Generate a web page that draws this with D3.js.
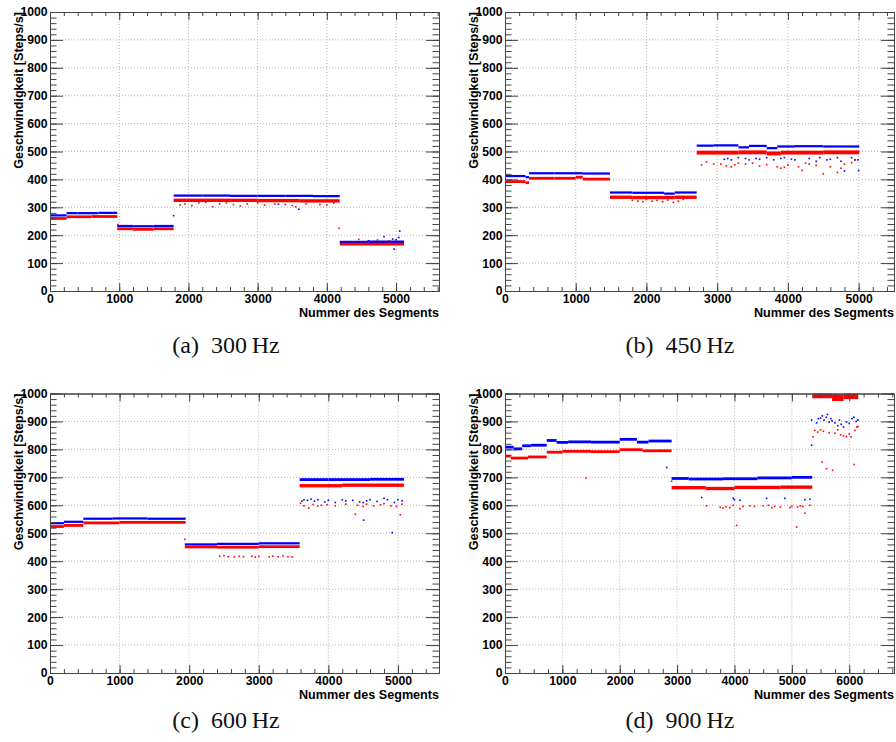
<!DOCTYPE html>
<html>
<head>
<meta charset="utf-8">
<script src="https://cdn.jsdelivr.net/npm/d3@7"></script>
<style>
  html, body { margin: 0; padding: 0; background: #fff; }
  svg { display: block; }
</style>
</head>
<body>
<svg id="chart" width="896" height="742"></svg>
<script>
// ---------------- DATA ----------------
const captions = ["(a)\u2002300\u2009Hz", "(b)\u2002450\u2009Hz", "(c)\u2002600\u2009Hz", "(d)\u2002900\u2009Hz"];
const xTitle = "Nummer des Segments";
const yTitle = "Geschwindigkeit [Steps/s]";

const xMaxValues = [5620, 5500, 5590, 6780];
const xMinorSteps = [200, 200, 200, 250];
const xTicksABC = [0, 1000, 2000, 3000, 4000, 5000];
const xTicksD = [0, 1000, 2000, 3000, 4000, 5000, 6000];
const yTicks = [0, 100, 200, 300, 400, 500, 600, 700, 800, 900, 1000];
const yMinorStep = 20;

// Dense bands of points: [first segment, last segment, mean speed, half spread]
const aBlueRuns = [
  [0,240,271,4],[240,400,279,4],[400,700,279,4],[700,972,280,4],
  [972,1200,233,4],[1200,1500,232,4],[1500,1786,233,4],
  [1786,2200,342,4],[2200,2600,342,4],[2600,3000,341,4],[3000,3400,341,4],[3400,3800,341,4],[3800,4186,340,4],
  [4186,4600,176,4],[4600,5115,176,5]
];
const aRedRuns = [
  [0,240,260,5],[240,600,266,5],[600,972,267,5],
  [972,1200,223,5],[1200,1500,221,5],[1500,1786,223,5],
  [1786,2400,325,6],[2400,3000,325,6],[3000,3600,324,6],[3600,4186,323,6],
  [4186,5115,168,5]
];
const aBlueOut = [[1786,270],[3301,311],[3595,293],[4600,180],[4826,195],[4950,186],[4971,150],[5000,184],[5040,192],[5053,215]];
const aRedOut = [[980,238],[1880,308],[1950,312],[2050,306],[2150,316],[2250,318],[2350,302],[2450,312],[2550,316],
  [2650,310],[2750,305],[2850,312],[3000,316],[3100,308],[3250,312],[3400,310],[3500,306],[3550,302],[3700,312],
  [3900,310],[4000,308],[4100,315],[4177,225],[4461,185],[4731,183],[4900,180]];

const bBlueRuns = [
  [0,290,412,4],[290,340,408,4],[340,700,422,4],[700,1100,422,4],[1100,1484,421,4],
  [1484,1800,353,4],[1800,2250,352,4],[2250,2400,349,4],[2400,2710,353,4],
  [2710,2950,521,4],[2950,3300,522,4],[3300,3450,515,4],[3450,3700,520,4],[3700,3850,512,4],
  [3850,4100,518,4],[4100,4500,519,4],[4500,5009,518,4]
];
const bRedRuns = [
  [0,290,392,5],[290,340,388,5],[340,700,404,5],[700,1000,404,5],[1000,1100,408,5],[1100,1484,401,5],
  [1484,1800,336,6],[1800,2400,335,6],[2400,2710,336,6],
  [2710,3300,496,7],[3300,3700,497,7],[3700,3900,493,7],[3900,4500,496,7],[4500,5009,497,7]
];
const bBlueOut = [[3100,472],[3150,475],[3200,470],[3300,478],[3400,475],[3450,470],[3550,475],[3600,472],[3700,478],
  [3800,470],[3900,475],[3950,478],[4050,472],[4100,470],[4300,475],[4400,465],[4450,478],[4550,470],[4600,472],
  [4700,478],[4750,465],[4800,430],[4900,478],[4950,470],[4990,470],[5000,432]];
const bRedOut = [[1800,325],[1880,322],[1950,320],[2000,328],[2080,322],[2150,325],[2230,320],[2300,326],[2380,318],
  [2450,322],[2520,328],[2780,452],[2850,462],[2950,455],[3050,455],[3130,448],[3200,445],[3250,452],[3300,458],
  [3400,455],[3500,458],[3600,448],[3700,453],[3850,445],[3900,440],[3950,443],[4000,452],[4150,445],[4200,432],
  [4250,458],[4300,455],[4400,450],[4500,420],[4600,445],[4700,425],[4750,440],[4800,455],[4900,460],[4950,470]];

const cBlueRuns = [
  [0,200,536,4],[200,478,541,4],
  [478,900,552,4],[900,1400,553,4],[1400,1950,552,4],
  [1938,2400,460,4],[2400,3000,462,4],[3000,3588,464,4],
  [3588,4000,692,5],[4000,4600,692,5],[4600,5086,693,5]
];
const cRedRuns = [
  [0,200,524,5],[200,478,528,5],
  [478,1000,537,5],[1000,1950,539,5],
  [1938,2400,451,5],[2400,3000,450,5],[3000,3588,452,5],
  [3588,4200,670,6],[4200,5086,672,6]
];
const cBlueOut = [[3620,615],[3650,620],[3700,618],[3750,622],[3800,615],[3850,620],[3950,612],[4000,618],[4100,610],
  [4200,620],[4250,616],[4350,618],[4450,612],[4500,610],[4507,547],[4550,616],[4600,620],[4700,614],[4800,625],
  [4850,620],[4918,502],[4950,610],[5000,620],[5060,616]];
const cRedOut = [[1938,478],[2440,418],[2500,420],[2560,416],[2650,415],[2720,417],[2780,416],[2900,418],[2950,415],
  [3000,417],[3150,415],[3200,418],[3280,416],[3350,419],[3420,416],[3480,415],[3600,607],[3650,598],[3720,590],
  [3780,603],[3850,598],[3900,600],[3980,602],[4100,598],[4250,604],[4388,568],[4420,600],[4500,596],[4550,604],
  [4650,598],[4750,602],[4800,606],[4900,598],[4980,596],[5033,566],[5060,604]];

const dBlueRuns = [
  [0,150,808,5],[150,300,802,5],[300,450,813,5],[450,727,815,5],
  [727,900,832,5],[900,1100,825,5],[1100,1500,827,5],[1500,2000,826,5],[2000,2300,836,5],[2300,2500,826,5],[2500,2904,830,5],
  [2904,3200,696,5],[3200,3800,694,5],[3800,4400,695,5],[4400,5000,698,5],[5000,5355,700,5]
];
const dRedRuns = [
  [0,100,776,5],[100,400,769,5],[400,727,773,5],
  [727,1000,790,5],[1000,1500,793,5],[1500,2000,792,5],[2000,2400,799,5],[2400,2904,795,5],
  [2904,3500,663,6],[3500,4000,660,6],[4000,4800,664,6],[4800,5355,665,6],
  [5355,5700,992,9],[5700,5900,985,12],[5900,6157,990,10]
];
const dBlueOut = [[2817,735],[3427,628],[3978,625],[4000,620],[4095,618],[4560,625],[4879,625],[5227,620],[5314,622],
  [5344,905],[5344,815],[5430,895],[5460,910],[5500,912],[5530,920],[5560,905],[5600,915],[5620,925],[5650,898],
  [5680,910],[5700,902],[5750,895],[5800,885],[5830,905],[5860,890],[5900,880],[5950,898],[6000,893],[6050,910],
  [6080,915],[6120,900],[6150,905]];
const dRedOut = [[1411,698],[2904,686],[3514,598],[3750,593],[3800,590],[3850,595],[3920,592],[3978,600],[4037,528],
  [4095,588],[4150,596],[4269,598],[4350,596],[4501,598],[4590,600],[4650,592],[4700,596],[4800,594],[4966,592],
  [5000,596],[5083,522],[5100,594],[5150,598],[5192,596],[5227,572],[5314,600],[5370,845],[5400,868],[5450,862],
  [5500,870],[5529,755],[5550,865],[5605,731],[5650,860],[5710,725],[5750,858],[5800,870],[5850,852],[5900,848],
  [5950,846],[6000,855],[6030,845],[6082,746],[6100,868],[6130,880],[6150,882]];

// ---------------- LAYOUT ----------------
const layout = [
  {left: 50,  right: 439, top: 12,    bottom: 291, capX: 226, capY: 353},
  {left: 505, right: 894, top: 12,    bottom: 291, capX: 680, capY: 353},
  {left: 50,  right: 439, top: 393.5, bottom: 673, capX: 226, capY: 728},
  {left: 505, right: 894, top: 393.5, bottom: 673, capX: 680, capY: 728}
];
const panels = [
  {blueRuns: aBlueRuns, redRuns: aRedRuns, blueOut: aBlueOut, redOut: aRedOut, xTicks: xTicksABC},
  {blueRuns: bBlueRuns, redRuns: bRedRuns, blueOut: bBlueOut, redOut: bRedOut, xTicks: xTicksABC},
  {blueRuns: cBlueRuns, redRuns: cRedRuns, blueOut: cBlueOut, redOut: cRedOut, xTicks: xTicksABC},
  {blueRuns: dBlueRuns, redRuns: dRedRuns, blueOut: dBlueOut, redOut: dRedOut, xTicks: xTicksD}
];

const BLUE = "#0000ff", RED = "#ff0000";
const AXIS = "#444";
const SANS = "'Liberation Sans', Arial, Helvetica, sans-serif";
const SERIF = "'Liberation Serif', 'Times New Roman', serif";

const svg = d3.select("#chart");

panels.forEach((p, i) => {
  const L = layout[i];
  const g = svg.append("g");
  const x = d3.scaleLinear().domain([0, xMaxValues[i]]).range([L.left, L.right]);
  const y = d3.scaleLinear().domain([0, 1000]).range([L.bottom, L.top]);

  // grid
  const grid = g.append("g").attr("stroke", "#a0a0a0").attr("stroke-width", 0.8).attr("stroke-dasharray", "1,2");
  grid.selectAll("line.gx").data(p.xTicks.filter(v => v > 0)).join("line")
    .attr("x1", d => x(d)).attr("x2", d => x(d)).attr("y1", L.top).attr("y2", L.bottom);
  grid.selectAll("line.gy").data(yTicks.filter(v => v > 0 && v < 1000)).join("line")
    .attr("class", "gy")
    .attr("x1", L.left).attr("x2", L.right).attr("y1", d => y(d)).attr("y2", d => y(d));

  // clip
  const clipId = "clip" + i;
  svg.append("clipPath").attr("id", clipId).append("rect")
    .attr("x", L.left).attr("y", L.top).attr("width", L.right - L.left).attr("height", L.bottom - L.top);
  const data = g.append("g").attr("clip-path", `url(#${clipId})`);

  function band(runs, color, minH) {
    data.append("g").selectAll("rect").data(runs).join("rect")
      .attr("x", d => x(d[0]))
      .attr("width", d => Math.max(1, x(d[1]) - x(d[0])))
      .attr("y", d => { const h = Math.max(minH, y(d[2] - d[3]) - y(d[2] + d[3])); return y(d[2]) - h / 2; })
      .attr("height", d => Math.max(minH, y(d[2] - d[3]) - y(d[2] + d[3])))
      .attr("fill", color);
  }
  function dots(pts, color) {
    data.append("g").selectAll("rect").data(pts).join("rect")
      .attr("x", d => x(d[0]) - 0.8).attr("y", d => y(d[1]) - 0.8)
      .attr("width", 1.6).attr("height", 1.6).attr("fill", color);
  }
  band(p.blueRuns, BLUE, 2);
  dots(p.blueOut, BLUE);
  band(p.redRuns, RED, 2);
  dots(p.redOut, RED);

  // axes
  const xMinor = d3.range(0, xMaxValues[i], xMinorSteps[i]);
  const yMinor = d3.range(0, 1001, yMinorStep);
  const axes = g.append("g");
  axes.append("g").attr("transform", `translate(0,${L.bottom})`)
    .call(d3.axisBottom(x).tickValues(xMinor).tickSize(-4).tickSizeOuter(0).tickFormat(""));
  axes.append("g").attr("class", "xlab").attr("transform", `translate(0,${L.bottom})`)
    .call(d3.axisBottom(x).tickValues(p.xTicks).tickSize(-8).tickSizeOuter(0).tickPadding(3.8).tickFormat(d3.format("d")));
  axes.append("g").attr("transform", `translate(0,${L.top})`)
    .call(d3.axisTop(x).tickValues(xMinor).tickSize(-4).tickSizeOuter(0).tickFormat(""));
  axes.append("g").attr("transform", `translate(0,${L.top})`)
    .call(d3.axisTop(x).tickValues(p.xTicks).tickSize(-8).tickSizeOuter(0).tickFormat(""));
  axes.append("g").attr("transform", `translate(${L.left},0)`)
    .call(d3.axisLeft(y).tickValues(yMinor).tickSize(-6.5).tickSizeOuter(0).tickFormat(""));
  axes.append("g").attr("class", "ylab").attr("transform", `translate(${L.left},0)`)
    .call(d3.axisLeft(y).tickValues(yTicks).tickSize(-13).tickSizeOuter(0).tickPadding(2.5).tickFormat(d3.format("d")));
  axes.append("g").attr("transform", `translate(${L.right},0)`)
    .call(d3.axisRight(y).tickValues(yMinor).tickSize(-6.5).tickSizeOuter(0).tickFormat(""));
  axes.append("g").attr("transform", `translate(${L.right},0)`)
    .call(d3.axisRight(y).tickValues(yTicks).tickSize(-13).tickSizeOuter(0).tickFormat(""));

  axes.selectAll(".domain, .tick line").attr("stroke", AXIS).attr("stroke-width", 1);
  axes.selectAll("text").attr("fill", "#000").attr("font-family", SANS)
    .attr("font-weight", "bold").attr("font-size", 12.2);

  // axis titles
  g.append("text").attr("x", L.right).attr("y", L.bottom + 26)
    .attr("text-anchor", "end").attr("font-family", SANS).attr("font-weight", "bold")
    .attr("font-size", 12.6).text(xTitle);
  g.append("text").attr("transform", `translate(${L.left - 27.5},${L.top}) rotate(-90)`)
    .attr("text-anchor", "end").attr("font-family", SANS).attr("font-weight", "bold")
    .attr("font-size", 12.6).text(yTitle);

  // caption
  g.append("text").attr("x", L.capX).attr("y", L.capY)
    .attr("text-anchor", "middle").attr("font-family", SERIF)
    .attr("font-size", 24).attr("fill", "#111").text(captions[i]);
});
</script>
</body>
</html>
